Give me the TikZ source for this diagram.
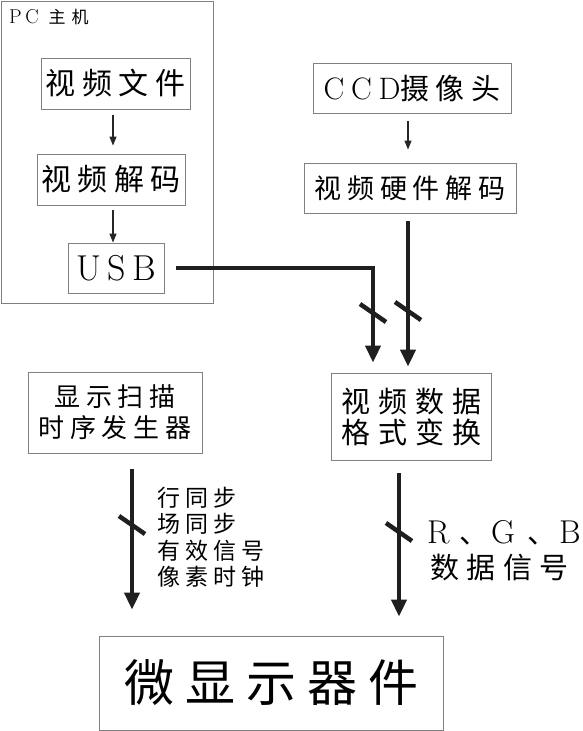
\documentclass[tikz,border=0pt]{standalone}
\usepackage{fontspec}
\newfontfamily\cjk[LetterSpace=22]{Noto Sans CJK SC}
\newfontfamily\latin[LetterSpace=18]{Latin Modern Roman}
\usetikzlibrary{arrows.meta}

\newcommand\fsz[1]{\fontsize{#1}{#1}\selectfont}

\begin{document}
\begin{tikzpicture}[
    x=1pt, y=-1pt,
    box/.style={
        draw=black!50,
        line width=0.9pt,
        inner sep=0pt
    },
    feed/.style={
        -{Triangle[length=9pt,width=7pt]},
        line width=1.2pt,
        draw=black!85
    },
    bus/.style={
        -{Triangle[length=17pt,width=15pt]},
        line width=4.5pt,
        draw=black!88
    },
    slash/.style={line width=4.5pt, draw=black!88}
]
\useasboundingbox (0,0) rectangle (583,731);

% ------------------------------------------------
% PC side
% ------------------------------------------------
\node[box, minimum width=212pt, minimum height=302pt] (pc) at (107,152) {};
\node[anchor=west, inner sep=0pt] (pclabel) at (9,17)
    {\fsz{20}{\latin PC}\hspace{10pt}{\cjk\fsz{17}\addfontfeatures{LetterSpace=35}主机}};

\node[box, minimum width=149pt, minimum height=51pt, font=\fsz{30}\cjk] (file) at (115.5,83.5)
    {视频文件};
\node[box, minimum width=148pt, minimum height=51pt, font=\fsz{30}\cjk] (dec) at (111,179.5)
    {视频解码};
\node[box, minimum width=96pt, minimum height=50pt, font=\fsz{36}\latin] (usb) at (116,268)
    {USB};

% ------------------------------------------------
% camera side
% ------------------------------------------------
\node[box, minimum width=198pt, minimum height=50pt] (ccd) at (412,88)
    {\fsz{31}{\latin\addfontfeatures{LetterSpace=22}CCD}{\cjk\fsz{29}摄像头}};
\node[box, minimum width=212pt, minimum height=50pt, font=\fsz{27}\cjk] (hwdec) at (410,188)
    {视频硬件解码};

% ------------------------------------------------
% middle and bottom blocks
% ------------------------------------------------
\node[box, minimum width=174pt, minimum height=81pt, align=center,
      font=\fontsize{26}{31}\selectfont\cjk] (timing) at (115,412.5)
    {显示扫描\\时序发生器};
\node[box, minimum width=160pt, minimum height=87pt, align=center,
      font=\fontsize{29}{31}\selectfont\cjk\addfontfeatures{LetterSpace=28}] (fmt) at (411.5,416.5)
    {视频数据\\格式变换};
\node[box, minimum width=344pt, minimum height=94pt, font=\fsz{50}\cjk] (disp) at (271,683)
    {微显示器件};

% ------------------------------------------------
% columns of the connectors
% ------------------------------------------------
\coordinate (ax) at (113,0);
\coordinate (bx) at (408,0);
\coordinate (c1) at (373,0);
\coordinate (c3) at (132,0);
\coordinate (c4) at (399,0);

% thin arrows
\draw[feed, shorten <=6pt, shorten >=8pt] (file.south -| ax) -- (dec.north -| ax);
\draw[feed, shorten <=5pt, shorten >=0pt] (dec.south -| ax) -- (usb.north -| ax);
\draw[feed, shorten <=8pt, shorten >=13pt] (ccd.south -| bx) -- (hwdec.north -| bx);

% thick arrows
\draw[bus, shorten <=12pt, shorten >=10pt] (usb.east) -| (fmt.north -| c1);
\draw[bus, shorten <=8pt, shorten >=6pt] (hwdec.south -| bx) -- (fmt.north -| bx);
\draw[bus, shorten <=16pt, shorten >=26pt] (timing.south -| c3) -- (disp.north -| c3);
\draw[bus, shorten <=13pt, shorten >=19pt] (fmt.south -| c4) -- (disp.north -| c4);

% bus marks
\foreach \X/\Y in {373/313, 408/311, 132/525, 399/532}
    \draw[slash] (\X-13,\Y-9) -- (\X+13,\Y+9);

% ------------------------------------------------
% signal labels
% ------------------------------------------------
\node[anchor=west, align=left, inner sep=0pt,
      font=\fontsize{23}{26.5}\selectfont\cjk] (sync) at (157,537.5)
    {行同步\\场同步\\有效信号\\像素时钟};
\node[anchor=west, align=left, inner sep=0pt,
      font=\fontsize{29}{35}\selectfont\cjk\addfontfeatures{LetterSpace=26}] (rgb) at (427,551)
    {\makebox[32pt][l]{\latin\fontsize{33}{35}\selectfont R}\makebox[32pt][l]{、}%
     \makebox[36pt][l]{\latin\fontsize{33}{35}\selectfont G}\makebox[32pt][l]{、}%
     {\latin\fontsize{33}{35}\selectfont B}\\
     \hspace*{3pt}数据信号};

\end{tikzpicture}
\end{document}
